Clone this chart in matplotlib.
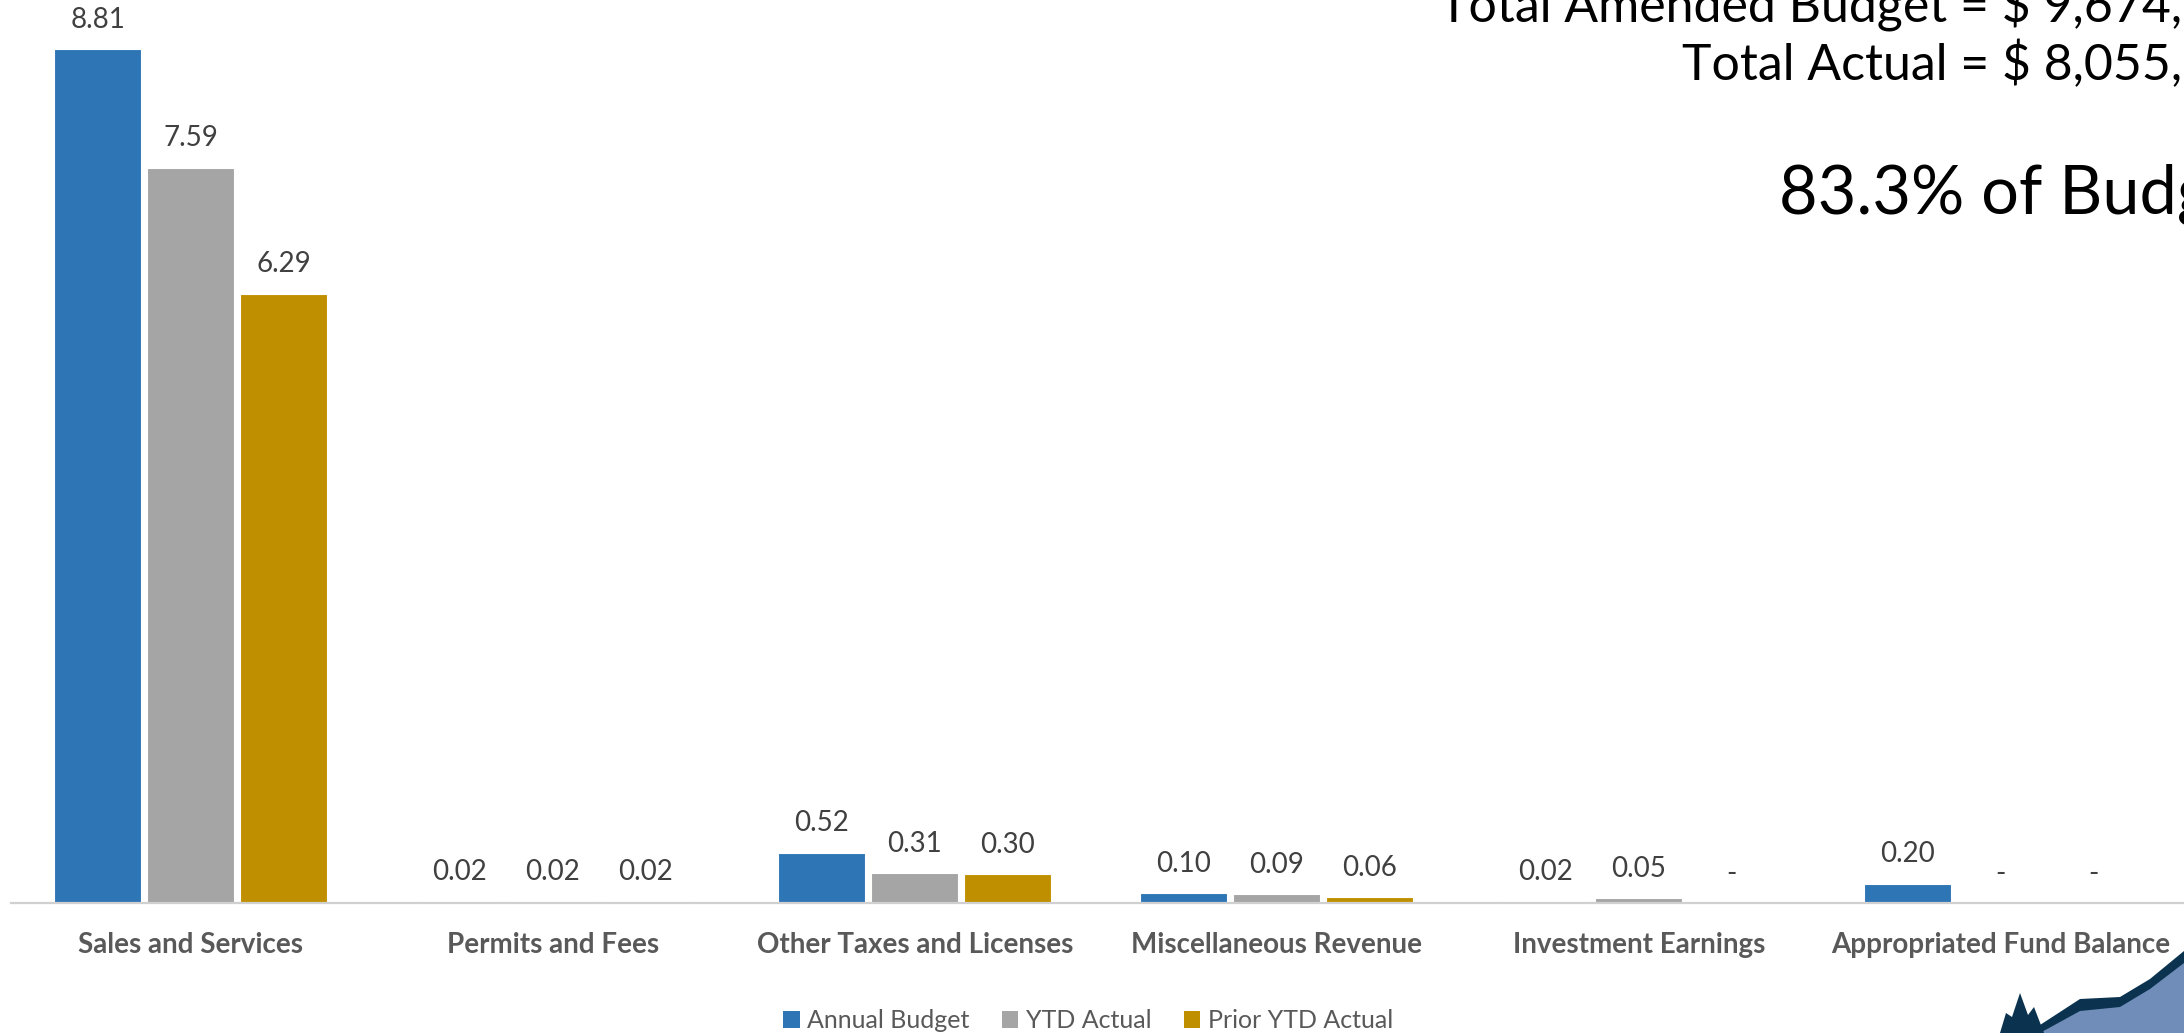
#!/usr/bin/env python
# Revenue by source: annual budget vs YTD actual vs prior YTD actual (millions)

import numpy as np
import matplotlib
matplotlib.use("Agg")
import matplotlib.pyplot as plt
from matplotlib.patches import Patch, Polygon

###########################################
# DATA
###########################################
categories = ["Sales and Services", "Permits and Fees", "Other Taxes and Licenses",
              "Miscellaneous Revenue", "Investment Earnings", "Appropriated Fund Balance"]
series_names = ["Annual Budget", "YTD Actual", "Prior YTD Actual"]
annual_budget = [8.81, 0.02, 0.52, 0.10, 0.02, 0.20]
ytd_actual = [7.59, 0.02, 0.31, 0.09, 0.05, 0.00]
prior_ytd_actual = [6.29, 0.02, 0.30, 0.06, 0.00, 0.00]

line_budget = "Total Amended Budget = $ 9,674,"
line_actual = "Total Actual = $ 8,055,"
line_pct = "83.3% of Budget"

###########################################
# STYLE
###########################################
W, H = 2184, 1033
colors = ["#2E75B6", "#A5A5A5", "#BF8F00"]
label_grey = "#595959"
plt.rcParams['font.family'] = ['Lato', 'DejaVu Sans']

fig = plt.figure(figsize=(W / 100, H / 100), dpi=100)
# plot area: axis line at y=903px, starts at x=11px
ax = fig.add_axes([11 / W, (H - 903) / H, 1 - 11 / W, 903 / H])

x = np.arange(len(categories))
bw = 0.24
off = 0.257
all_series = [annual_budget, ytd_actual, prior_ytd_actual]

for i, vals in enumerate(all_series):
    bars = ax.bar(x + (i - 1) * off, vals, width=bw, color=colors[i],
                  edgecolor="white", linewidth=0.8, label=series_names[i], zorder=2)
    for b, v in zip(bars, vals):
        txt = "%.2f" % v if v > 0 else "-"
        ax.annotate(txt, (b.get_x() + b.get_width() / 2, v), xytext=(0, 21),
                    textcoords="offset points", ha="center", va="center",
                    fontsize=20, color="#404040")

ax.set_xlim(-0.497, 5.506)
ax.set_ylim(0, 9.32)
for s in ["top", "left", "right"]:
    ax.spines[s].set_visible(False)
ax.spines["bottom"].set_color("#D0D0D0")
ax.spines["bottom"].set_linewidth(1.6)
ax.spines["bottom"].set_zorder(3)
ax.set_yticks([])
ax.set_xticks(x)
ax.set_xticklabels(categories, fontsize=20, fontweight="bold", color=label_grey)
ax.tick_params(axis="x", length=0, pad=30)
for t in ax.get_xticklabels():
    t.set_va("center")

# legend
handles = [Patch(facecolor=c, edgecolor="none") for c in colors]
fig.legend(handles, series_names, loc="center", bbox_to_anchor=(1088 / W, (H - 1021) / H),
           ncol=3, frameon=False, fontsize=18, labelcolor=label_grey,
           handlelength=0.65, handleheight=0.65, handletextpad=0.3, columnspacing=1.3,
           borderpad=0, borderaxespad=0)

# headline texts (clipped by slide edge)
fig.text(2182 / W, 1 - 23 / H, line_budget, ha="right", va="baseline",
         fontsize=36, color="black")
fig.text(2182 / W, 1 - 80 / H, line_actual, ha="right", va="baseline",
         fontsize=36, color="black")
fig.text(1779 / W, 1 - 213 / H, line_pct, ha="left", va="baseline",
         fontsize=48, color="black")

# logo corner (partial)
navy = "#0B3350"
light = "#6F8DB8"
fig.add_artist(Polygon([(2040 / W, 0), (2080 / W, 25 / H), (2120 / W, 28 / H), (2150 / W, 45 / H),
                        (2184 / W, 72 / H), (2184 / W, 0)], closed=True,
                       transform=fig.transFigure, facecolor=light, edgecolor="none"))
fig.add_artist(Polygon([(2040 / W, 8 / H), (2080 / W, 34 / H), (2120 / W, 36 / H), (2150 / W, 54 / H),
                        (2184 / W, 82 / H), (2184 / W, 70 / H), (2150 / W, 44 / H), (2120 / W, 26 / H),
                        (2080 / W, 22 / H), (2040 / W, 0)], closed=True,
                       transform=fig.transFigure, facecolor=navy, edgecolor="none"))
fig.add_artist(Polygon([(2000 / W, 0), (2006 / W, 20 / H), (2012 / W, 16 / H), (2020 / W, 40 / H),
                        (2028 / W, 18 / H), (2034 / W, 26 / H), (2044 / W, 0)], closed=True,
                       transform=fig.transFigure, facecolor=navy, edgecolor="none"))

fig.savefig("out.png", dpi=100)
